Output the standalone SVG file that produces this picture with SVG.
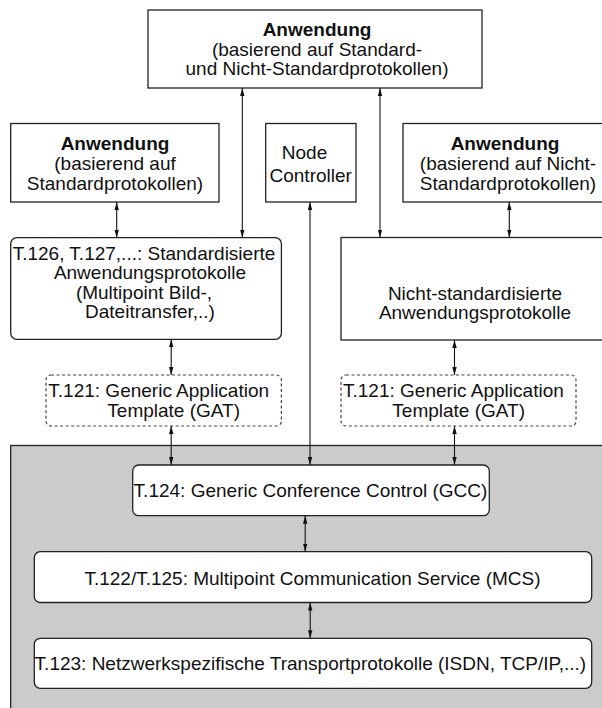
<svg xmlns="http://www.w3.org/2000/svg" width="602" height="708" viewBox="0 0 602 708">
  <defs>
    <marker id="head" viewBox="0 0 8 6" markerWidth="8" markerHeight="6" refX="8" refY="3" orient="auto-start-reverse" markerUnits="userSpaceOnUse">
      <path d="M0,0.8 L8,3 L0,5.2 z" fill="#111"/>
    </marker>
    <style>
      .box { fill: #fff; stroke: #222; stroke-width: 1.3; }
      .dash { fill: #fff; stroke: #444; stroke-width: 1.2; stroke-dasharray: 3 2.5; }
      .band { fill: #cbcbcb; stroke: #222; stroke-width: 1.3; }
      text { font-family: "Liberation Sans", Arial, sans-serif; font-size: 19px; fill: #111; text-anchor: middle; }
      .b { font-weight: bold; }
      .link { fill: none; stroke: #111; stroke-width: 1.1; marker-start: url(#head); marker-end: url(#head); }
    </style>
  </defs>

  <!-- shaded conference-layer band -->
  <rect class="band" x="10.7" y="445.5" width="600" height="270"/>

  <g id="app-mixed">
    <rect class="box" x="148" y="10" width="334" height="78"/>
    <text x="317" y="36" class="b">Anwendung</text>
    <text x="317" y="55.5">(basierend auf Standard-</text>
    <text x="317" y="75">und Nicht-Standardprotokollen)</text>
  </g>

  <g id="app-std">
    <rect class="box" x="10.7" y="123.5" width="208.3" height="78.5"/>
    <text x="115" y="150" class="b">Anwendung</text>
    <text x="115" y="170">(basierend auf</text>
    <text x="115" y="190">Standardprotokollen)</text>
  </g>

  <g id="node-controller">
    <rect class="box" x="265.7" y="123.5" width="90.3" height="78.5"/>
    <text x="304.5" y="159">Node</text>
    <text x="310.7" y="181.5">Controller</text>
  </g>

  <g id="app-nonstd">
    <rect class="box" x="403" y="123.5" width="220" height="78.5"/>
    <text x="505" y="150" class="b">Anwendung</text>
    <text x="508" y="170">(basierend auf Nicht-</text>
    <text x="508" y="190">Standardprotokollen)</text>
  </g>

  <g id="std-protocols">
    <rect class="box" x="10.7" y="237.7" width="270.7" height="101.6" rx="6"/>
    <text x="144" y="259.5">T.126, T.127,...: Standardisierte</text>
    <text x="150" y="279">Anwendungsprotokolle</text>
    <text x="144" y="298.5">(Multipoint Bild-,</text>
    <text x="150" y="318">Dateitransfer,..)</text>
  </g>

  <g id="nonstd-protocols">
    <rect class="box" x="341" y="237.5" width="280" height="102.5"/>
    <text x="475" y="299.5">Nicht-standardisierte</text>
    <text x="475" y="319">Anwendungsprotokolle</text>
  </g>

  <g id="gat-left">
    <rect class="dash" x="46" y="375" width="235.4" height="51" rx="5"/>
    <text x="158.7" y="397">T.121: Generic Application</text>
    <text x="173.7" y="416.5">Template (GAT)</text>
  </g>

  <g id="gat-right">
    <rect class="dash" x="341" y="375" width="235" height="51" rx="5"/>
    <text x="453.4" y="397">T.121: Generic Application</text>
    <text x="458.7" y="416.5">Template (GAT)</text>
  </g>

  <g id="gcc">
    <rect class="box" x="132.7" y="465" width="356.6" height="50.7" rx="6"/>
    <text x="310.5" y="497">T.124: Generic Conference Control (GCC)</text>
  </g>

  <g id="mcs">
    <rect class="box" x="34.3" y="551.7" width="557.4" height="50.8" rx="6"/>
    <text x="312.5" y="585">T.122/T.125: Multipoint Communication Service (MCS)</text>
  </g>

  <g id="transport">
    <rect class="box" x="34.3" y="638.3" width="557.4" height="50" rx="6"/>
    <text x="310.4" y="670">T.123: Netzwerkspezifische Transportprotokolle (ISDN, TCP/IP,...)</text>
  </g>

  <g id="connectors">
    <line class="link" x1="242.3" y1="88" x2="242.3" y2="237.7"/>
    <line class="link" x1="380" y1="88" x2="380" y2="237.5"/>
    <line class="link" x1="116.7" y1="202" x2="116.7" y2="237.7"/>
    <line class="link" x1="509.3" y1="202" x2="509.3" y2="237.5"/>
    <line class="link" x1="310" y1="202" x2="310" y2="465"/>
    <line class="link" x1="171.2" y1="339.3" x2="171.2" y2="375"/>
    <line class="link" x1="171.2" y1="426" x2="171.2" y2="465"/>
    <line class="link" x1="454.5" y1="340" x2="454.5" y2="375"/>
    <line class="link" x1="454.5" y1="426" x2="454.5" y2="465"/>
    <line class="link" x1="305.2" y1="515.7" x2="305.2" y2="551.7"/>
    <line class="link" x1="310.2" y1="602.5" x2="310.2" y2="638.3"/>
  </g>
</svg>
